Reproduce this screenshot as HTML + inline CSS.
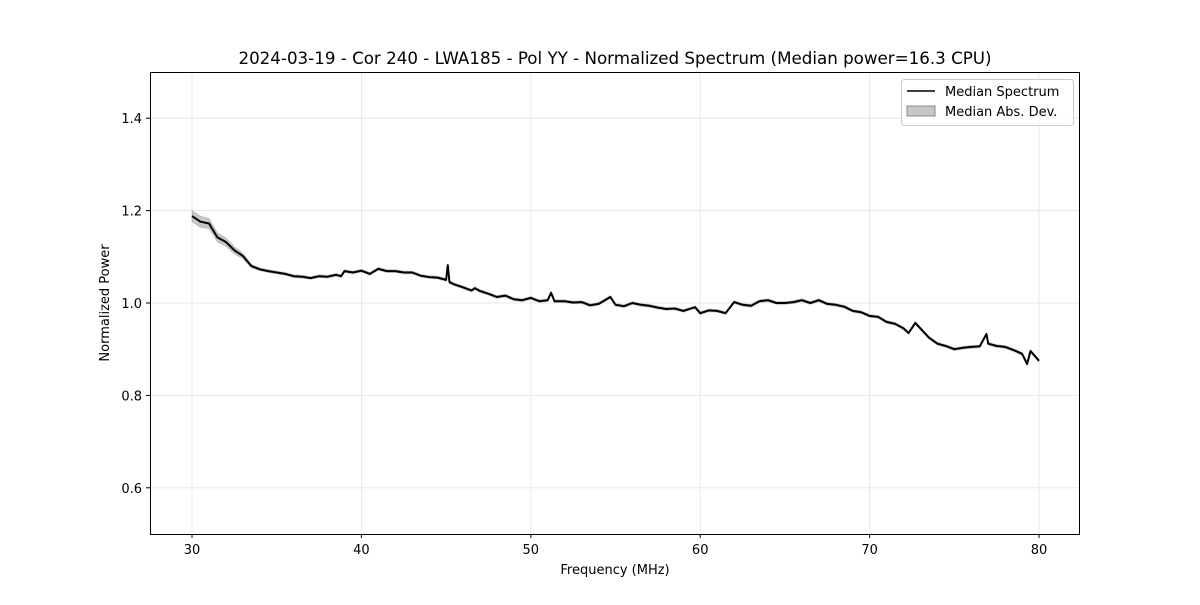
<!DOCTYPE html>
<html><head><meta charset="utf-8"><style>
body{margin:0;background:#fff;}
svg text{font-family:"DejaVu Sans","Liberation Sans",sans-serif;fill:#000;}
</style></head><body>
<svg id="chart" width="1200" height="600" xmlns="http://www.w3.org/2000/svg">
<rect width="1200" height="600" fill="#fff"/>
<g id="grid"></g>
<path id="band" fill="#000" fill-opacity="0.22" stroke="#888" stroke-opacity="0.4" stroke-width="0.8"/>
<path id="line" fill="none" stroke="#000" stroke-width="2" stroke-linejoin="round"/>
<rect x="150.5" y="72.5" width="929" height="462" fill="none" stroke="#000" stroke-width="1"/>
<g id="ticks"></g>
<text x="615" y="64" font-size="16.7" text-anchor="middle">2024-03-19 - Cor 240 - LWA185 - Pol YY - Normalized Spectrum (Median power=16.3 CPU)</text>
<text x="615" y="574" font-size="13" text-anchor="middle">Frequency (MHz)</text>
<text transform="translate(109,303) rotate(-90)" font-size="13" text-anchor="middle">Normalized Power</text>
<g>
<rect x="901.5" y="79.5" width="172" height="46" rx="3" fill="#fff" fill-opacity="0.8" stroke="#ccc"/>
<line x1="907" y1="91" x2="935" y2="91" stroke="#000" stroke-width="1.6"/>
<text x="945" y="96" font-size="13">Median Spectrum</text>
<rect x="907" y="106" width="28" height="10" fill="#000" fill-opacity="0.22" stroke="#888"/>
<text x="945" y="116" font-size="13">Median Abs. Dev.</text>
</g>
</svg>
<script>
const freqs=[
30,30.5,31,31.5,32,32.5,33,33.5,34,34.5,
35,35.5,36,36.5,37,37.5,38,38.5,38.8,39,
39.5,40,40.5,41,41.5,42,42.5,43,43.5,44,
44.5,45,45.1,45.2,45.5,46,46.5,46.7,47,47.5,
48,48.5,49,49.5,50,50.5,51,51.2,51.4,52,
52.5,53,53.5,54,54.7,55,55.5,56,56.5,57,
57.5,58,58.5,59,59.7,60,60.5,61,61.5,62,
62.5,63,63.5,64,64.5,65,65.5,66,66.5,67,
67.5,68,68.5,69,69.5,70,70.5,71,71.5,72,
72.3,72.7,73,73.5,74,74.5,75,75.5,76,76.5,
76.9,77,77.5,78,78.5,79,79.3,79.5,80];
const values=[
1.188,1.176,1.172,1.142,1.132,1.114,1.102,1.080,1.073,1.069,
1.066,1.063,1.058,1.057,1.054,1.058,1.057,1.061,1.058,1.069,
1.066,1.070,1.063,1.074,1.069,1.069,1.066,1.066,1.059,1.056,
1.055,1.050,1.082,1.045,1.040,1.034,1.027,1.032,1.026,1.020,
1.013,1.016,1.008,1.006,1.011,1.004,1.006,1.022,1.004,1.004,
1.001,1.002,0.995,0.998,1.013,0.996,0.993,1.000,0.996,0.994,
0.990,0.987,0.988,0.983,0.991,0.978,0.984,0.983,0.978,1.002,
0.996,0.994,1.004,1.006,1.000,1.000,1.002,1.006,1.000,1.006,
0.998,0.996,0.992,0.983,0.980,0.972,0.970,0.959,0.955,0.945,
0.935,0.957,0.945,0.925,0.912,0.907,0.900,0.903,0.905,0.906,
0.933,0.912,0.907,0.905,0.898,0.890,0.868,0.896,0.875];
const mads=[
0.012,0.012,0.011,0.010,0.009,0.008,0.006,0.004,0.003,0.003,
0.003,0.003,0.003,0.003,0.003,0.003,0.003,0.003,0.003,0.003,
0.003,0.003,0.003,0.003,0.003,0.003,0.003,0.003,0.003,0.003,
0.003,0.003,0.003,0.003,0.003,0.003,0.003,0.003,0.003,0.003,
0.003,0.003,0.003,0.003,0.003,0.003,0.003,0.003,0.003,0.003,
0.003,0.003,0.003,0.003,0.003,0.003,0.003,0.003,0.003,0.003,
0.003,0.003,0.003,0.003,0.003,0.003,0.003,0.003,0.003,0.003,
0.003,0.003,0.003,0.003,0.003,0.003,0.003,0.003,0.003,0.003,
0.003,0.003,0.003,0.003,0.003,0.003,0.003,0.003,0.003,0.003,
0.003,0.003,0.003,0.003,0.003,0.003,0.003,0.003,0.003,0.003,
0.003,0.003,0.003,0.003,0.003,0.003,0.003,0.003,0.003];
const xTicks=[30,40,50,60,70,80];
const yTicks=[0.6,0.8,1.0,1.2,1.4];
const yTickLabels=["0.6","0.8","1.0","1.2","1.4"];
const X=f=>150+(f-27.52)*(930/54.9);
const Y=v=>534-(v-0.5)*462;
const NS='http://www.w3.org/2000/svg';
const grid=document.getElementById('grid'),ticks=document.getElementById('ticks');
function mk(p,tag,a){const e=document.createElementNS(NS,tag);for(const k in a)e.setAttribute(k,a[k]);p.appendChild(e);return e;}
xTicks.forEach(t=>{const x=X(t);
 const g=mk(grid,'line',{x1:x,x2:x,y1:72,y2:534,stroke:'#e3e3e3','stroke-width':0.8});
 
 
 mk(ticks,'line',{x1:x,x2:x,y1:534,y2:538,stroke:'#000'});
 const tx=mk(ticks,'text',{x:x,y:554,'font-size':13,'text-anchor':'middle'});tx.textContent=t;
 
 });
yTicks.forEach((t,i)=>{const y=Y(t);
 const g=mk(grid,'line',{x1:150,x2:1080,y1:y,y2:y,stroke:'#e3e3e3','stroke-width':0.8});
 
 
 mk(ticks,'line',{x1:146,x2:150,y1:y,y2:y,stroke:'#000'});
 const tx=mk(ticks,'text',{x:142,y:y+5,'font-size':13,'text-anchor':'end'});tx.textContent=yTickLabels[i];
 
 });
const n=Math.min(freqs.length,values.length);
let d='';for(let i=0;i<n;i++){d+=(i?'L':'M')+X(freqs[i]).toFixed(1)+','+Y(values[i]).toFixed(1);}
document.getElementById('line').setAttribute('d',d);
let up=[],lo=[];for(let i=0;i<n;i++){const m=mads[i]||0.003;up.push(X(freqs[i]).toFixed(1)+','+Y(values[i]+m).toFixed(1));lo.unshift(X(freqs[i]).toFixed(1)+','+Y(values[i]-m).toFixed(1));}
document.getElementById('band').setAttribute('d','M'+up.join('L')+'L'+lo.join('L')+'Z');
</script>
</body></html>
